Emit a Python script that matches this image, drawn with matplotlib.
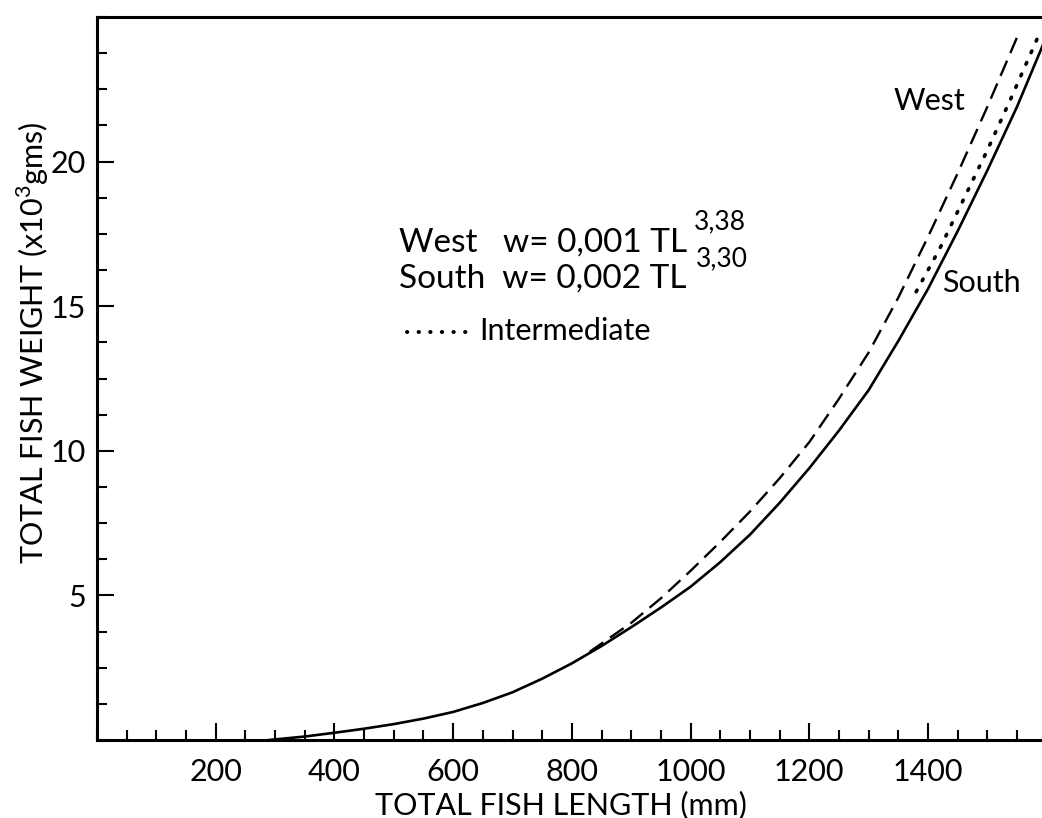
import matplotlib.pyplot as plt
from matplotlib.ticker import MultipleLocator

plt.rcParams['font.family'] = ['Lato', 'DejaVu Sans']
plt.rcParams['mathtext.fontset'] = 'custom'
plt.rcParams['mathtext.rm'] = 'Lato'

# total length (mm) vs total weight (x10^3 gms)
south_len = [290, 350, 400, 450, 500, 550, 600, 650, 700, 750, 800, 850, 900,
             950, 1000, 1050, 1100, 1150, 1200, 1250, 1300, 1350, 1400, 1450,
             1500, 1550, 1600]
south_wt = [0.0, 0.12, 0.25, 0.39, 0.55, 0.74, 0.97, 1.28, 1.65, 2.12, 2.65,
            3.25, 3.9, 4.58, 5.3, 6.15, 7.1, 8.2, 9.4, 10.7, 12.1, 13.8, 15.6,
            17.6, 19.7, 21.9, 24.35]

west_len = [830, 900, 950, 1000, 1050, 1100, 1150, 1200, 1250, 1300, 1350,
            1400, 1450, 1500, 1550]
west_wt = [3.05, 4.05, 4.9, 5.85, 6.85, 7.9, 9.05, 10.3, 11.8, 13.4, 15.3,
           17.4, 19.6, 21.9, 24.3]

inter_len = [1380, 1420, 1460, 1500, 1540, 1585]
inter_wt = [15.5, 17.0, 18.7, 20.4, 22.2, 24.3]

x_major = [200, 400, 600, 800, 1000, 1200, 1400]
y_major = [5, 10, 15, 20]

fig = plt.figure(figsize=(10.42, 8.18), dpi=100)
ax = fig.add_axes([97 / 1042, 78 / 818, 1 - 97 / 1042, 723 / 818])

ax.plot(south_len, south_wt, color='black', lw=1.9)
ax.plot(west_len, west_wt, color='black', lw=1.7, dashes=(7, 3.5))
ax.plot(inter_len, inter_wt, color='black', lw=2.6, dashes=(0.5, 3.0),
        dash_capstyle='round')

ax.set_xlim(0, 1592)
ax.set_ylim(0, 25)
ax.set_xticks(x_major)
ax.set_yticks(y_major)
ax.xaxis.set_minor_locator(MultipleLocator(50))
ax.yaxis.set_minor_locator(MultipleLocator(1.25))
ax.tick_params(which='both', direction='in', width=1.5, color='black',
               labelsize=22)
ax.tick_params(which='major', length=12)
ax.tick_params(which='minor', length=7)
ax.tick_params(axis='x', which='major', pad=13)
ax.tick_params(axis='y', which='major', pad=8)

ax.spines['right'].set_visible(False)
for s in ['left', 'bottom', 'top']:
    ax.spines[s].set_linewidth(2.2)

fig.text(561 / 1042, 1 - 814 / 818, 'TOTAL FISH LENGTH (mm)', fontsize=22,
         ha='center', va='baseline')
fig.text(33 / 1042, 1 - 343 / 818,
         r'TOTAL FISH WEIGHT (x10$^{3}$gms)', fontsize=22,
         rotation=90, ha='center', va='center')

# equations
fig.text(399 / 1042, 1 - 252 / 818, 'West   w= 0,001 TL', fontsize=24,
         va='baseline')
fig.text(694 / 1042, 1 - 229 / 818, '3,38', fontsize=19, va='baseline')
fig.text(399 / 1042, 1 - 288 / 818, 'South  w= 0,002 TL', fontsize=24,
         va='baseline')
fig.text(696 / 1042, 1 - 266 / 818, '3,30', fontsize=19, va='baseline')
fig.text(404 / 1042, 1 - 339 / 818, '\u00b7 \u00b7 \u00b7 \u00b7 \u00b7 \u00b7',
         fontsize=16, va='baseline', fontweight='bold')
fig.text(479 / 1042, 1 - 340 / 818, 'Intermediate', fontsize=22,
         va='baseline')

ax.text(1342, 21.8, 'West', fontsize=22, va='baseline')
ax.text(1424, 15.5, 'South', fontsize=22, va='baseline')

fig.savefig('out.png', dpi=100)
